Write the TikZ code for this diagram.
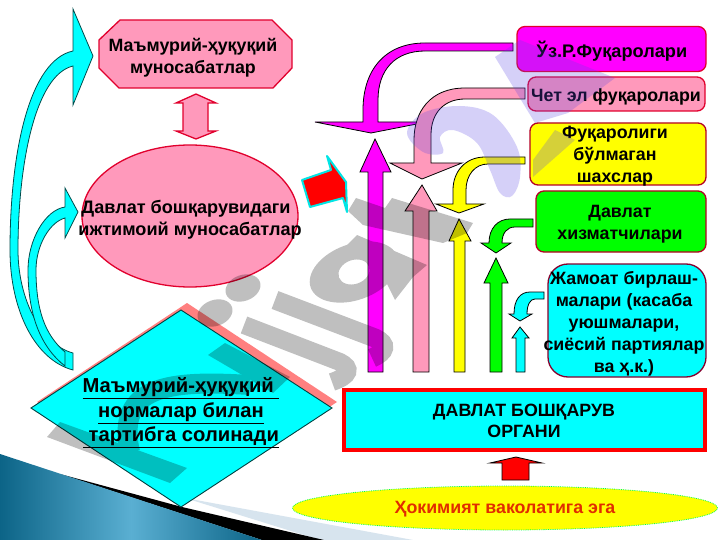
\documentclass[tikz,border=0pt]{standalone}
\usepackage{fontspec}
\setmainfont{Liberation Sans}
\usetikzlibrary{shapes.geometric}
\definecolor{pk}{RGB}{255,153,187}
\definecolor{crim}{RGB}{225,0,45}
\definecolor{wavedark}{RGB}{12,100,135}
\definecolor{wavelight}{RGB}{90,175,210}
\definecolor{lightband}{RGB}{215,228,238}
\definecolor{lilac}{RGB}{90,70,230}
\definecolor{shadowred}{RGB}{255,128,128}
\definecolor{cy}{RGB}{0,255,255}
\definecolor{mg}{RGB}{255,0,255}
\definecolor{yl}{RGB}{255,255,0}
\definecolor{gr}{RGB}{0,255,0}
\definecolor{rd}{RGB}{255,0,0}
\tikzset{
  lbl/.style={font=\bfseries\fontsize{17.8}{22}\selectfont,align=center,text=black,inner sep=0pt},
  rbox/.style={draw=#1,line width=1.3pt,rounded corners=8pt,inner sep=0pt},
  barrow/.style={fill=#1,draw=black,line width=0.8pt,line join=miter},
  carrow/.style={fill=cy,draw=black!70!cy,line width=0.8pt}
}
\begin{document}
\begin{tikzpicture}[x=1pt,y=-1pt]
\useasboundingbox (0,0) rectangle (720,540);
\fill[white] (0,0) rectangle (720,540);
% bottom wave
\fill[lightband] (185,498) -- (413,540) -- (320,540) -- cycle;
\fill[black] (60,474) -- (182,507) -- (324,540) -- (262,540) -- cycle;
\path[left color=wavedark,right color=wavedark,middle color=wavelight] (0,454) -- (262,540) -- (0,540) -- cycle;
% left curved arrows
\draw[carrow] (73,51) .. controls (30,60) and (10,150) .. (10,250) .. controls (10,310) and (35,360) .. (73,370) -- (73,353) .. controls (42,345) and (18,300) .. (18,250) .. controls (18,165) and (35,75) .. (73,66) -- (73,105) -- (93,56) -- (73,9) -- cycle;
\draw[carrow] (65,207) .. controls (45,210) and (28,240) .. (28,270) .. controls (28,310) and (38,345) .. (65,366) -- (65,352) .. controls (45,335) and (36,310) .. (36,270) .. controls (36,245) and (50,222) .. (65,218) -- (65,238) -- (78,212) -- (65,188) -- cycle;
% top left
\draw[draw=crim,fill=pk,line width=1.3pt] (120,20) -- (272,20) -- (292,40) -- (292,68) -- (273,88) -- (119,88) -- (99,68) -- (99,40) -- cycle;
\node[lbl] (adminrel) at (193,57.5) {Маъмурий-ҳуқуқий\\муносабатлар};
\draw[draw=crim,fill=pk,line width=1.3pt] (196,94) -- (216,103) -- (208,103) -- (208,131) -- (216,131) -- (196,139) -- (176,131) -- (183,131) -- (183,103) -- (176,103) -- cycle;
\node[ellipse,draw=crim,fill=pk,line width=1.3pt,minimum width=216pt,minimum height=142pt,inner sep=0pt] (socrel) at (190,216) {};
\node[lbl,font=\bfseries\fontsize{18.1}{21.5}\selectfont] (socrelt) at (190,219.5) {\hspace*{-8pt}Давлат бошқарувидаги\\ижтимоий муносабатлар};
% red slanted arrow
\draw[fill=rd,draw=cy!90!black,line width=2pt,line join=round] (302,180) -- (331,170) -- (327,156) -- (346,182) -- (347,212) -- (343,198) -- (310,207) -- cycle;
% diamond
\fill[shadowred] (187,303) -- (337,402) -- (187,500) -- (37,402) -- cycle;
\draw[fill=cy,draw=black!75!cy,line width=0.9pt] (181,310) -- (332,408) -- (181,507) -- (31,408) -- cycle;
\node[font=\bfseries\fontsize{20.2}{24.5}\selectfont,align=center,inner sep=0pt] (normt) at (181,413) {\underline{Маъмурий-ҳуқуқий\ }\\\underline{нормалар билан}\\\underline{\ тартибга солинади}};
% right boxes
\node[rbox=crim,fill=mg,minimum width=189pt,minimum height=45pt] (b1) at (611.5,49) {};
\node[lbl,font=\bfseries\fontsize{18.2}{22}\selectfont] at (612,51) {Ўз.Р.Фуқаролари};
\node[rbox=crim,fill=pk,minimum width=177pt,minimum height=34pt] (b2) at (616.5,94) {};
\node[lbl] at (616,97) {Чет эл фуқаролари};
\node[rbox=crim!80!black,fill=yl,minimum width=176pt,minimum height=62pt] (b3) at (618,154) {};
\node[lbl] at (615,156.5) {Фуқаролиги\\бўлмаган\\шахслар};
\node[rbox=crim!80!black,fill=gr,minimum width=170pt,minimum height=61pt] (b4) at (621,221.5) {};
\node[lbl] at (620,224.5) {Давлат\\хизматчилари};
\node[rbox=purple!70!black,fill=cy,rounded corners=20pt,minimum width=158pt,minimum height=113pt] (b5) at (627,320.5) {};
\node[lbl] at (624,324) {Жамоат бирлаш-\\малари (касаба\\уюшмалари,\\сиёсий партиялар\\ва ҳ.к.)};
% bent arrows
\draw[barrow=mg] (513,43) -- (425,43) .. controls (385,43) and (363,70) .. (363,110) -- (363,122) -- (315,122) -- (371,133) -- (427,122) -- (378,122) -- (378,100) .. controls (378,70) and (395,51) .. (425,51) -- (513,51) -- cycle;
\draw[barrow=pk] (525,88) -- (465,88) .. controls (430,88) and (414,112) .. (414,140) -- (414,163) -- (390,163) -- (422,179) -- (462,163) -- (431,163) -- (431,135) .. controls (431,112) and (445,99) .. (465,99) -- (525,99) -- cycle;
\draw[barrow=yl] (525,157) -- (485,157) .. controls (465,157) and (453,172) .. (453,190) -- (453,204) -- (436,204) -- (459,213) -- (484,204) -- (466,204) -- (466,190) .. controls (466,175) and (475,164) .. (488,164) -- (525,164) -- cycle;
\draw[barrow=gr] (533,219) -- (510,219) .. controls (498,219) and (489,228) .. (489,243) -- (481,243) -- (496,253) -- (511,243) -- (502,243) .. controls (502,233) and (507,227) .. (515,227) -- (533,227) -- cycle;
\draw[barrow=cy] (544,292) -- (530,292) .. controls (520,292) and (514,300) .. (514,314) -- (509,314) -- (520,321) -- (532,314) -- (527,314) .. controls (527,305) and (530,299) .. (535,299) -- (544,299) -- cycle;
% straight up arrows
\draw[barrow=mg] (368,372) -- (368,172) -- (360,172) -- (375,139) -- (391,172) -- (383,172) -- (383,372) -- cycle;
\draw[barrow=pk] (413,372) -- (413,211) -- (405,211) -- (422,185) -- (437,211) -- (429,211) -- (429,372) -- cycle;
\draw[barrow=yl] (454,372) -- (454,241) -- (449,241) -- (459,219) -- (471,241) -- (465,241) -- (465,372) -- cycle;
\draw[barrow=gr] (490,372) -- (490,283) -- (484,283) -- (496,258) -- (508,283) -- (502,283) -- (502,372) -- cycle;
\draw[barrow=cy] (516,372) -- (516,338) -- (512,338) -- (520,327) -- (529,338) -- (525,338) -- (525,372) -- cycle;
% main box
\node[draw=rd,fill=cy,line width=4pt,minimum width=361pt,minimum height=60pt,inner sep=0pt] (organ) at (524.5,420) {};
\node[font=\bfseries\fontsize{17.8}{21}\selectfont,align=center,inner sep=0pt] at (524,421) {ДАВЛАТ БОШҚАРУВ\\ОРГАНИ};
\draw[barrow=rd] (516,457) -- (542,463) -- (529,463) -- (529,480) -- (502,480) -- (502,463) -- (490,463) -- cycle;
\node[ellipse,fill=yl,draw=gr!70!cy,densely dotted,line width=0.8pt,minimum width=425pt,minimum height=44pt,inner sep=0pt] (power) at (505,508) {};
\node[font=\bfseries\fontsize{17.8}{21}\selectfont,text={rgb,255:red,225;green,45;blue,0},inner sep=0pt] at (505,509) {Ҳокимият ваколатига эга};
% watermark, gray letters
\begin{scope}[transparency group,opacity=0.25]
\fill[black] (60,422) -- (187,468) -- (170,483) -- (47,437) -- cycle;
\fill[black] (208,355) -- (225,343) -- (290,377) -- (273,393) -- cycle;
\draw[black,line width=20pt] (250,385) .. controls (170,380) and (115,385) .. (130,452);
\fill[black,rotate around={20:(215,313)}] (215,313) ellipse (18pt and 13pt);
\fill[black,rotate around={20:(243,288)}] (243,288) ellipse (18pt and 13pt);
\draw[black,line width=18pt] (244,325) -- (340,362) .. controls (352,368) and (350,376) .. (332,382);
\draw[black,line width=19pt] (275,300) -- (375,338) .. controls (388,344) and (386,352) .. (372,358);
\fill[black,even odd rule,rotate around={20:(354,272)}] (354,272) ellipse (46pt and 28pt) (354,272) ellipse (16pt and 12pt);
\fill[black] (347,245) -- (357,235) -- (427,265) -- (413,277) -- (395,300) -- (380,270) -- cycle;
\fill[black] (348,211) -- (356,198) -- (385,208) -- (392,198) -- (473,223) -- (467,233) -- (443,243) -- (363,225) -- cycle;
\end{scope}
% watermark, lilac figure
\begin{scope}[transparency group,opacity=0.25]
\fill[lilac] (495,57) -- (520,40) -- (615,78) -- (568,113) -- (535,123) -- cycle;
\fill[lilac] plot[smooth cycle,tension=0.6] coordinates {(407,133) (423,113) (460,106) (493,115) (517,147) (520,177) (512,196) (500,193) (490,170) (477,143) (453,130) (440,137) (443,153) (423,152)};
\fill[lilac] (533,160) -- (555,130) -- (575,140) -- (533,177) -- cycle;
\end{scope}
\end{tikzpicture}
\end{document}
